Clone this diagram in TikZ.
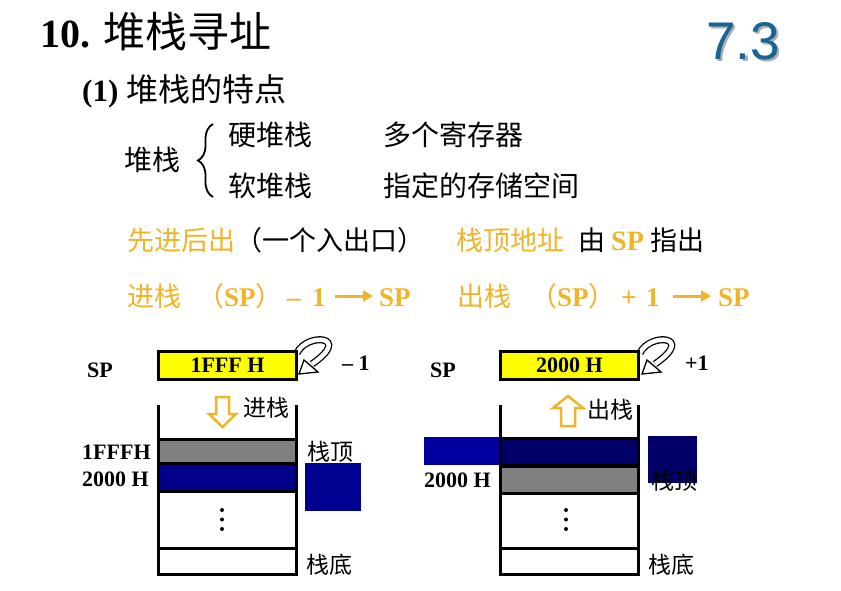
\documentclass[tikz,border=0pt]{standalone}
\usepackage{fontspec}
\setmainfont{Liberation Serif}
\newfontfamily\cjk{Noto Sans CJK SC}
\newfontfamily\numfont{Liberation Sans}
\usetikzlibrary{arrows.meta,decorations.pathreplacing}

\definecolor{gold}{RGB}{240,180,40}
\definecolor{sectionblue}{RGB}{22,100,152}
\definecolor{regyellow}{RGB}{255,255,0}
\definecolor{cellgray}{RGB}{128,128,128}
\definecolor{navyA}{RGB}{0,0,136}
\definecolor{navyB}{RGB}{0,0,145}
\definecolor{navyC}{RGB}{0,0,104}
\definecolor{bandblue}{RGB}{0,0,160}

\newcommand\fsz[1]{\fontsize{#1}{#1}\selectfont}
\newcommand\zh[1]{{\cjk #1}}

\tikzset{
  txt/.style={inner sep=0pt, anchor=west},
  btxt/.style={inner sep=0pt, anchor=base west},
  reg/.style={draw=black, line width=3pt, fill=regyellow, minimum width=138pt,
    minimum height=28pt, inner sep=0pt, font=\fsz{22}\bfseries},
  cellbox/.style={draw=black, line width=3pt},
  pushpop/.style={draw=gold, line width=2.5pt, fill=white, line join=miter},
  flowarrow/.style={gold, line width=3pt, -{Triangle[length=10pt,width=11pt]}},
  turnarrow/.pic={
    \draw[line width=1.3pt, double=white, double distance=4.5pt]
      (0,3) .. controls (10,-18) and (56,-14) .. (15,14);
    \draw[line width=1.3pt, fill=white, line join=miter]
      (2,24) -- (7,10) -- (21,22) -- cycle;
  },
}

\begin{document}
\begin{tikzpicture}[x=1pt,y=-1pt]
\useasboundingbox[fill=white] (0,0) rectangle (841,591);

% ---- headings ----
\node[txt] (title) at (40,32) {\fsz{40}{\bfseries 10.} \zh{\fsz{42}堆栈寻址}};
\node[text=black!40, anchor=center, inner sep=0pt, opacity=0.8] (secshadow) at (745.5,43.5) {\fsz{53}\numfont 7.3};
\node[text=sectionblue, anchor=center, inner sep=0pt] (sec) at (743,41) {\fsz{53}\numfont 7.3};
\node[txt] (sub) at (82,91) {\fsz{31}{\bfseries (1)} \zh{\fsz{32}堆栈的特点}};

% ---- kinds of stacks ----
\node[txt] (stk) at (124,160) {\fsz{28}\zh{堆栈}};
\draw[line width=1.8pt, decorate, decoration={brace, amplitude=15pt}] (213,197) -- (213,124);
\node[txt] (hard) at (228,135) {\fsz{28}\zh{硬堆栈}};
\node[txt] (harddesc) at (383,135) {\fsz{28}\zh{多个寄存器}};
\node[txt] (soft) at (228,186) {\fsz{28}\zh{软堆栈}};
\node[txt] (softdesc) at (383,186) {\fsz{28}\zh{指定的存储空间}};

% ---- properties ----
\node[btxt] (lifo) at (127,250) {\fsz{27}\zh{\textcolor{gold}{先进后出}（一个入出口）}};
\node[btxt, text=gold] (topaddr) at (456,250) {\fsz{27}\zh{栈顶地址}};
\node[btxt] (by) at (578,250) {\fsz{27}\zh{由}};
\node[btxt, text=gold] (spname) at (611,250) {\fsz{28}\bfseries SP};
\node[btxt] (pointed) at (650,250) {\fsz{27}\zh{指出}};

% ---- push / pop rules ----
\node[btxt, text=gold] (push) at (127,306) {\fsz{27}\zh{进栈}};
\node[btxt, text=gold] (pushsp) at (197,306) {\fsz{27}\zh{（}{\bfseries SP}\zh{）}};
\node[btxt, text=gold] (minus) at (287,306) {\fsz{27}\bfseries –};
\node[btxt, text=gold] (oneA) at (312,306) {\fsz{27}\bfseries 1};
\node[btxt, text=gold] (spA) at (379,306) {\fsz{27}\bfseries SP};
\draw[flowarrow, shorten <=9pt, shorten >=6pt] (oneA.east |- 0,296) -- (spA.west |- 0,296);

\node[btxt, text=gold] (pop) at (457,306) {\fsz{27}\zh{出栈}};
\node[btxt, text=gold] (popsp) at (530,306) {\fsz{27}\zh{（}{\bfseries SP}\zh{）}};
\node[btxt, text=gold] (plus) at (621,306) {\fsz{27}\bfseries +};
\node[btxt, text=gold] (oneB) at (646,306) {\fsz{27}\bfseries 1};
\node[btxt, text=gold] (spB) at (718,306) {\fsz{27}\bfseries SP};
\draw[flowarrow, shorten <=13pt, shorten >=7pt] (oneB.east |- 0,296) -- (spB.west |- 0,296);

% ---- push example ----
\node[txt] (spL) at (87,370) {\fsz{22}\bfseries SP};
\pic at (297,350) {turnarrow};
\node[reg] (regL) at (227.5,365) {1FFF H};
\node[txt] (decr) at (342,363) {\fsz{22}\bfseries – 1};

\draw[pushpop] (216,397) -- (229,397) -- (229,414) -- (236,414) -- (222.5,427)
  -- (209,414) -- (216,414) -- cycle;
\node[txt] (pushlbl) at (243,408) {\fsz{23}\zh{进栈}};

\draw[cellbox] (158.5,405) -- (158.5,440);
\draw[cellbox] (296,405) -- (296,440);
\draw[cellbox, fill=cellgray] (158.5,439.5) rectangle (296,463);
\draw[cellbox, fill=navyA] (158.5,463) rectangle (296,491);
\draw[cellbox] (158.5,491) rectangle (296,548);
\draw[cellbox] (158.5,548) rectangle (296,574);
\foreach \y in {510,519.5,529} \fill (222,\y) circle (2);

\node[txt] (addrL1) at (82,452) {\fsz{22}\bfseries 1FFFH};
\node[txt] (addrL2) at (82,479) {\fsz{22}\bfseries 2000 H};
\node[txt] (topL) at (307,452) {\fsz{23}\zh{栈顶}};
\fill[navyB] (305,463) rectangle (361,511);
\node[txt] (botL) at (306,565) {\fsz{23}\zh{栈底}};

% ---- pop example ----
\node[txt] (spR) at (430,370) {\fsz{22}\bfseries SP};
\pic at (640,350) {turnarrow};
\node[reg] (regR) at (569.5,365) {2000 H};
\node[txt] (incr) at (685,363) {\fsz{22}\bfseries +1};

\draw[pushpop] (561,426) -- (575,426) -- (575,408) -- (583,408) -- (568,396)
  -- (553,408) -- (561,408) -- cycle;
\node[txt] (poplbl) at (587,410) {\fsz{23}\zh{出栈}};

\fill[bandblue] (424,437) rectangle (499,465);
\draw[cellbox] (500.5,405) -- (500.5,439);
\draw[cellbox] (638.5,405) -- (638.5,439);
\draw[cellbox, fill=navyC] (500.5,438.5) rectangle (638.5,465);
\draw[cellbox, fill=cellgray] (500.5,466) rectangle (638.5,493);
\draw[cellbox] (500.5,493) rectangle (638.5,548);
\draw[cellbox] (500.5,548) rectangle (638.5,574);
\foreach \y in {510,519.5,529} \fill (566,\y) circle (2);

\node[txt] (addrR) at (424,480) {\fsz{22}\bfseries 2000 H};
\fill[navyC] (648,436) rectangle (697,483);
\node[txt] (topR) at (651,481) {\fsz{23}\zh{栈顶}};
\node[txt] (botR) at (648,565) {\fsz{23}\zh{栈底}};
\end{tikzpicture}
\end{document}
